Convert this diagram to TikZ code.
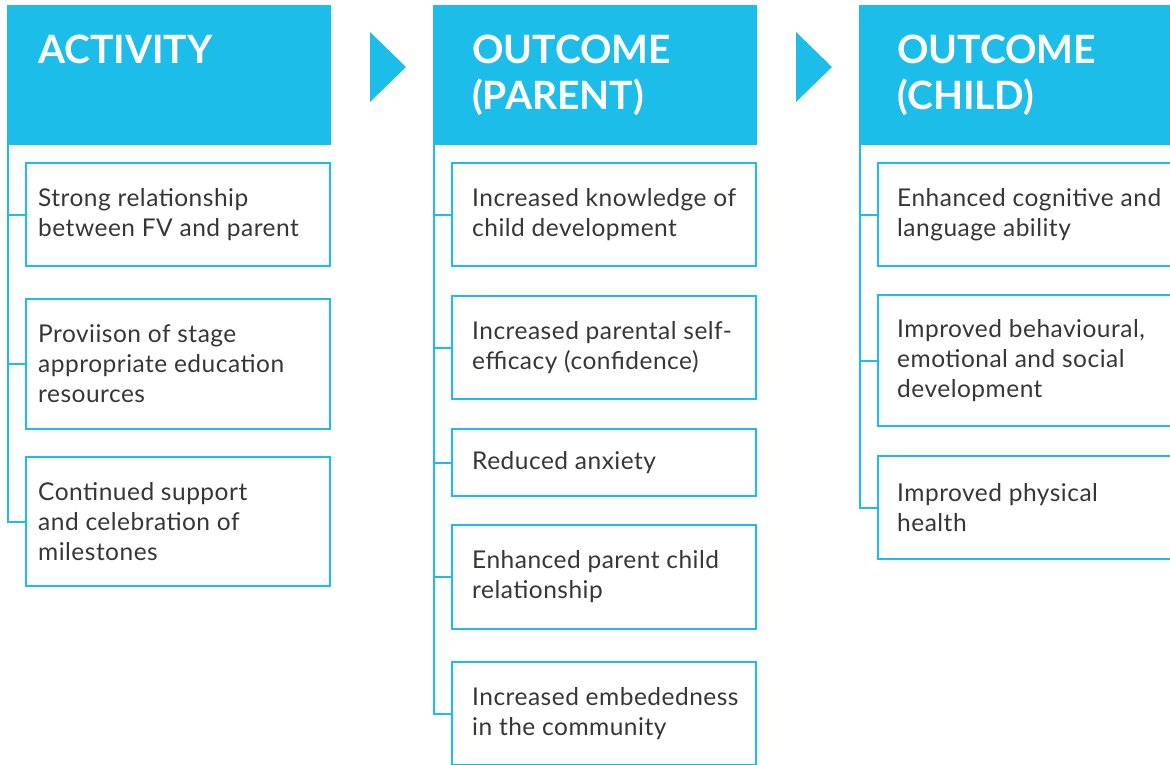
\documentclass[tikz,border=0pt]{standalone}
\usepackage{fontspec}
\setmainfont{Lato}
\newfontfamily\itemfam{Lato}[LetterSpace=2]
\usepackage{tikz}
\usetikzlibrary{positioning}
\definecolor{fvblue}{HTML}{1CBDE8}
\definecolor{txtgrey}{HTML}{363636}
\newcommand{\headfont}{\fontsize{39}{46}\selectfont\bfseries}
\newcommand{\itemfont}{\itemfam\fontsize{24.5}{30}\selectfont}
\tikzstyle{hdr}=[fill=fvblue, anchor=north west, inner sep=0pt, minimum width=324pt, minimum height=140pt]
\tikzstyle{htxt}=[anchor=north west, inner sep=0pt, align=left, text=white, font=\headfont]
\tikzstyle{item}=[draw=fvblue, line width=2pt, anchor=north west, inner sep=0pt, minimum width=304pt]
\tikzstyle{itxt}=[inner sep=0pt, align=left, text=txtgrey, font=\itemfont]
\tikzstyle{stem}=[draw=fvblue, line width=2pt]

\begin{document}
\begin{tikzpicture}[x=1pt, y=-1pt]
\useasboundingbox (0,0) rectangle (1170,764);
% headers
\node[hdr] (act) at (7,5) {};
\node[hdr] (par) at (433,5) {};
\node[hdr] (chi) at (859,5) {};
\node[htxt] (actT) at (38,35) {ACTIVITY};
\node[htxt] (parT) at (472,35) {OUTCOME\\(PARENT)};
\node[htxt] (chiT) at (897,35) {OUTCOME\\(CHILD)};
\fill[fvblue] (370,32) -- (406,67) -- (370,102) -- cycle;
\fill[fvblue] (796,32) -- (832,67) -- (796,102) -- cycle;
%
\node[item, minimum height=103pt] (a1) at (25,162) {};
\node[item, minimum height=130pt] (a2) at (25,298) {};
\node[item, minimum height=129pt] (a3) at (25,456) {};
\node[itxt, right=13pt of a1.west] (a1T) {Strong relationship\\between FV and parent};
\node[itxt, right=13pt of a2.west] (a2T) {Proviison of stage\\appropriate education\\resources};
\node[itxt, right=13pt of a3.west] (a3T) {Continued support\\and celebration of\\milestones};
%
\node[item, minimum height=103pt] (p1) at (451,162) {};
\node[item, minimum height=103pt] (p2) at (451,295) {};
\node[item, minimum height=67pt] (p3) at (451,428) {};
\node[item, minimum height=104pt] (p4) at (451,524) {};
\node[item, minimum height=103pt] (p5) at (451,661) {};
\node[itxt, right=21pt of p1.west] (p1T) {Increased knowledge of\\child development};
\node[itxt, right=21pt of p2.west] (p2T) {Increased parental self-\\efficacy (confidence)};
\node[itxt, right=21pt of p3.west] (p3T) {Reduced anxiety};
\node[itxt, right=21pt of p4.west] (p4T) {Enhanced parent child\\relationship};
\node[itxt, right=21pt of p5.west] (p5T) {Increased embededness\\in the community};
%
\node[item, minimum height=103pt] (c1) at (877,162) {};
\node[item, minimum height=131pt] (c2) at (877,294) {};
\node[item, minimum height=103pt] (c3) at (877,455) {};
\node[itxt, right=20pt of c1.west] (c1T) {Enhanced cognitive and\\language ability};
\node[itxt, right=20pt of c2.west] (c2T) {Improved behavioural,\\emotional and social\\development};
\node[itxt, right=20pt of c3.west] (c3T) {Improved physical\\health};
%
\draw[stem] ([xshift=1pt]act.south west) |- (a1.west);
\draw[stem] ([xshift=1pt]act.south west) |- (a2.west);
\draw[stem] ([xshift=1pt]act.south west) |- (a3.west);
\draw[stem] ([xshift=1pt]par.south west) |- (p1.west);
\draw[stem] ([xshift=1pt]par.south west) |- (p2.west);
\draw[stem] ([xshift=1pt]par.south west) |- (p3.west);
\draw[stem] ([xshift=1pt]par.south west) |- (p4.west);
\draw[stem] ([xshift=1pt]par.south west) |- (p5.west);
\draw[stem] ([xshift=1pt]chi.south west) |- (c1.west);
\draw[stem] ([xshift=1pt]chi.south west) |- (c2.west);
\draw[stem] ([xshift=1pt]chi.south west) |- (c3.west);
\end{tikzpicture}
\end{document}
